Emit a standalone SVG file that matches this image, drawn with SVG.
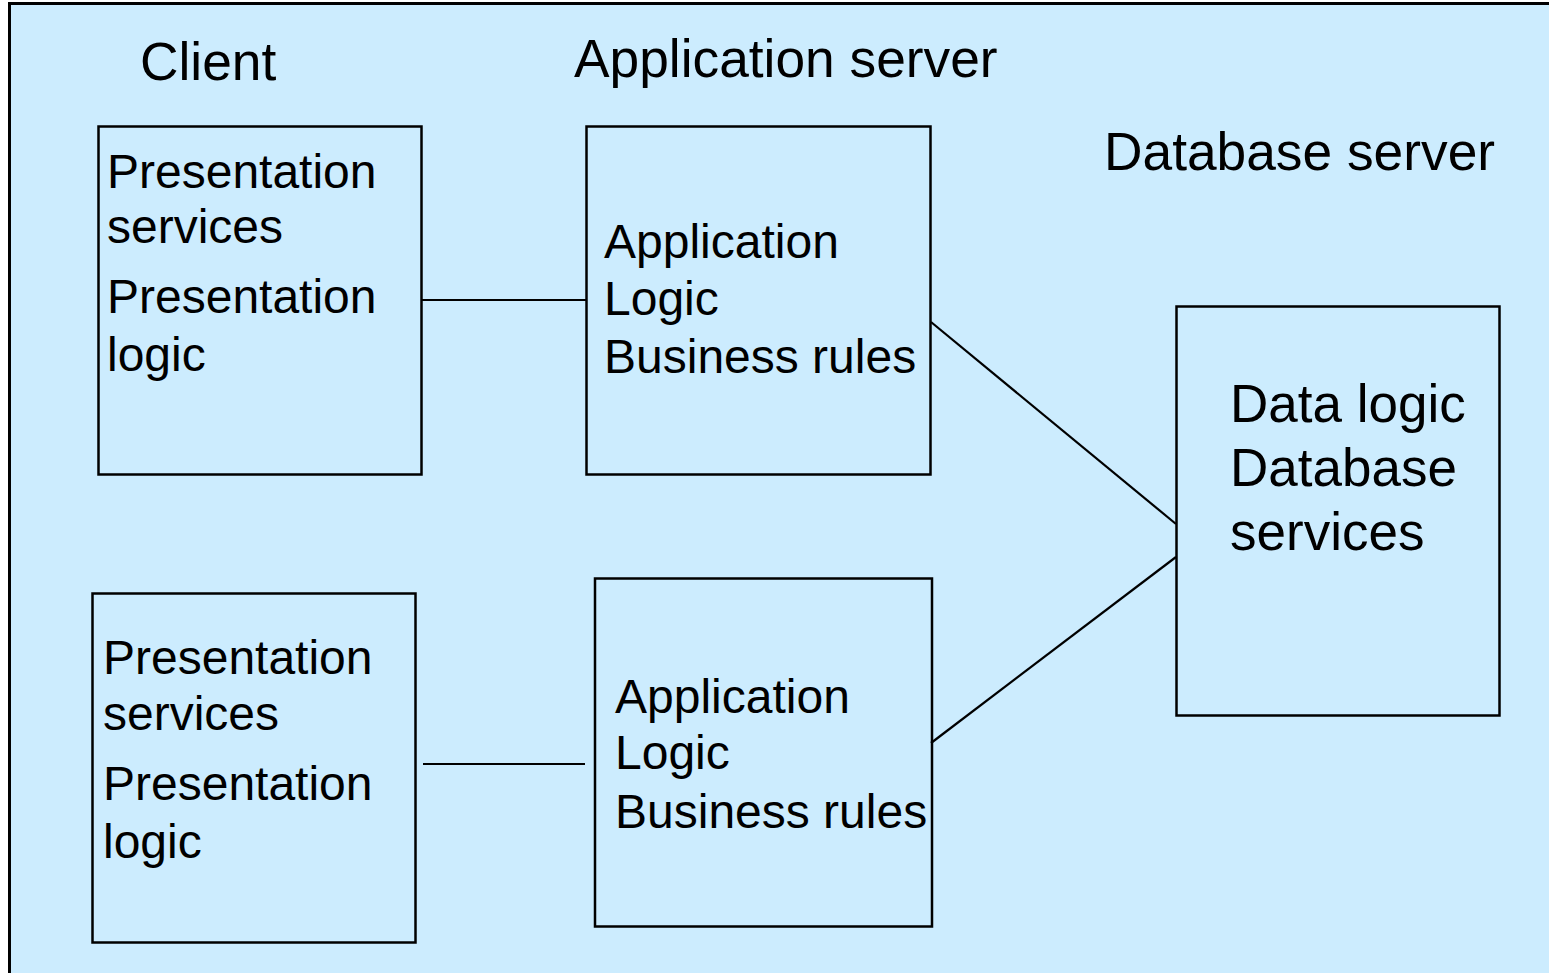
<svg xmlns="http://www.w3.org/2000/svg" width="1549" height="973" viewBox="0 0 1549 973">
<style>
  .box { fill: none; stroke: #000; stroke-width: 2.5; }
  .conn { stroke: #000; stroke-width: 2.2; fill: none; }
  .t { font-family: "Liberation Sans", Arial, Helvetica, sans-serif; fill: #000; }
  .title { font-size: 53.3px; }
  .lbl { font-size: 48px; }
  .dbl { font-size: 53px; }
</style>
<rect x="0" y="0" width="1549" height="973" fill="#ffffff"/>
<rect x="9.5" y="3.5" width="1600" height="1000" fill="#CCECFE" stroke="#000" stroke-width="3"/>

<g id="titles">
  <text class="t title" x="140" y="80">Client</text>
  <text class="t title" x="574" y="77">Application server</text>
  <text class="t title" x="1104" y="170">Database server</text>
</g>

<g id="connectors">
  <line class="conn" x1="422" y1="300" x2="586" y2="300"/>
  <line class="conn" x1="423" y1="764" x2="585" y2="764"/>
  <line class="conn" x1="931" y1="322" x2="1176" y2="524"/>
  <line class="conn" x1="931" y1="743" x2="1176" y2="557"/>
</g>

<g id="client1">
  <rect class="box" x="98.5" y="126.5" width="323" height="348"/>
  <text class="t lbl" x="107" y="188">Presentation</text>
  <text class="t lbl" x="107" y="243">services</text>
  <text class="t lbl" x="107" y="313">Presentation</text>
  <text class="t lbl" x="107" y="371">logic</text>
</g>

<g id="client2">
  <rect class="box" x="92.5" y="593.5" width="323" height="349"/>
  <text class="t lbl" x="103" y="674">Presentation</text>
  <text class="t lbl" x="103" y="730">services</text>
  <text class="t lbl" x="103" y="800">Presentation</text>
  <text class="t lbl" x="103" y="858">logic</text>
</g>

<g id="app1">
  <rect class="box" x="586.5" y="126.5" width="344" height="348"/>
  <text class="t lbl" x="604" y="258">Application</text>
  <text class="t lbl" x="604" y="315">Logic</text>
  <text class="t lbl" x="604" y="373">Business rules</text>
</g>

<g id="app2">
  <rect class="box" x="595" y="578.5" width="337" height="348"/>
  <text class="t lbl" x="615" y="713">Application</text>
  <text class="t lbl" x="615" y="769">Logic</text>
  <text class="t lbl" x="615" y="828">Business rules</text>
</g>

<g id="db">
  <rect class="box" x="1176.5" y="306.5" width="323" height="409"/>
  <text class="t dbl" x="1230" y="422">Data logic</text>
  <text class="t dbl" x="1230" y="486">Database</text>
  <text class="t dbl" x="1230" y="550">services</text>
</g>
</svg>
